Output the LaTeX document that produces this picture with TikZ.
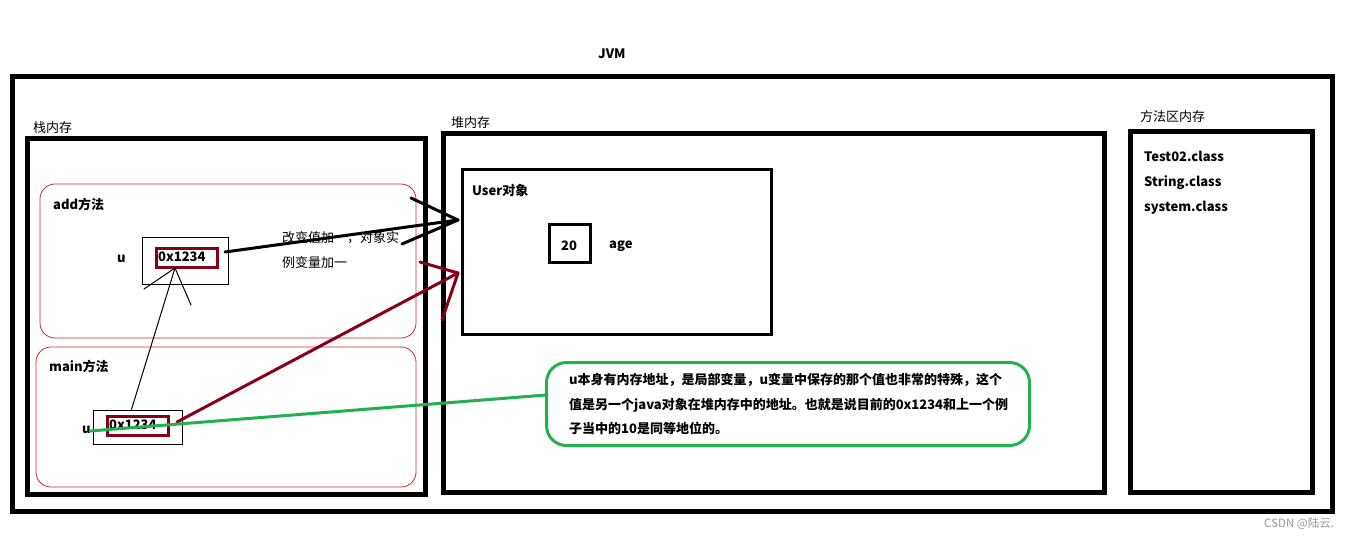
\documentclass[tikz,border=0pt]{standalone}
\usepackage{fontspec}
\setmainfont{Noto Sans CJK SC}
\definecolor{pdark}{RGB}{136,0,21}
\definecolor{pred}{RGB}{205,40,45}
\definecolor{pgreen}{RGB}{34,177,76}
\begin{document}
\begin{tikzpicture}[x=1pt,y=-1pt,
  box/.style={draw, inner sep=0pt, outer sep=0pt, anchor=north west},
  thick5/.style={line width=5pt},
  thick3/.style={line width=3pt},
  lbl/.style={inner sep=0pt, anchor=base west, font=\fontsize{13}{15}\selectfont},
  blbl/.style={lbl, font=\fontsize{13}{15}\selectfont\bfseries},
  hand/.style={line width=1pt, line cap=round},
  handthick/.style={line width=3pt, line cap=round}]
\useasboundingbox (0,0) rectangle (1356,539);
% containers
\node[box, thick5, minimum width=1320pt, minimum height=435pt] (jvm) at (12.5,76.5) {};
\node[blbl] (jvmlbl) at (598,58) {JVM};
\node[box, thick5, minimum width=398pt, minimum height=356pt] (stack) at (27.5,138.5) {};
\node[lbl] (stacklbl) at (33,132) {栈内存};
\node[box, thick5, minimum width=661pt, minimum height=359pt] (heap) at (443.5,133.5) {};
\node[lbl] (heaplbl) at (451,127) {堆内存};
\node[box, thick5, minimum width=182pt, minimum height=361pt] (meth) at (1130.5,131.5) {};
\node[lbl] (methlbl) at (1140,121) {方法区内存};
\node[blbl] (c1) at (1144,161) {Test02.class};
\node[blbl] (c2) at (1144,186) {String.class};
\node[blbl] (c3) at (1144,211) {system.class};
% add frame
\node[box, draw=pred, line width=0.8pt, rounded corners=15pt, minimum width=376pt, minimum height=154pt] (addf) at (40,184) {};
\node[blbl] (addlbl) at (53,209) {add方法};
\node[blbl] (uadd) at (117,262) {u};
\node[box, line width=0.8pt, minimum width=86pt, minimum height=47pt] (addo) at (142,237) {};
\node[box, draw=pdark, thick3, minimum width=61pt, minimum height=19pt] (addi) at (156.5,248.5) {};
\node[blbl] (addv) at (158,261) {0x1234};
% main frame
\node[box, draw=pred, line width=0.8pt, rounded corners=15pt, minimum width=380pt, minimum height=140pt] (mainf) at (36,347) {};
\node[blbl] (mainlbl) at (49,371) {main方法};
\node[blbl] (umain) at (82,433) {u};
\node[box, line width=0.8pt, minimum width=89pt, minimum height=34pt] (maino) at (93,410) {};
\node[box, draw=pdark, thick3, minimum width=61pt, minimum height=19pt] (maini) at (107.5,416.5) {};
\node[blbl] (mainv) at (109,429) {0x1234};
% heap object
\node[box, thick3, minimum width=309pt, minimum height=165pt] (user) at (462.5,169.5) {};
\node[blbl] (userlbl) at (472,195) {User对象};
\node[box, thick3, minimum width=41pt, minimum height=38pt] (agebox) at (549.5,224.5) {};
\node[blbl, anchor=base] (agev) at (569,250) {20};
\node[blbl] (agelbl) at (609,248) {age};
% annotation
\node[lbl] (n1) at (282,242) {改变值加\hspace{13pt}，对象实};
\node[lbl] (n2) at (282,267) {例变量加一};
% green note
\node[box, draw=pgreen, thick3, rounded corners=20pt, minimum width=483pt, minimum height=83pt] (note) at (546.5,362.5) {};
\node[blbl] (g1) at (569,384) {u本身有内存地址，是局部变量，u变量中保存的那个值也非常的特殊，这个};
\node[blbl] (g2) at (569,409) {值是另一个java对象在堆内存中的地址。也就是说目前的0x1234和上一个例};
\node[blbl] (g3) at (569,433) {子当中的10是同等地位的。};
% watermark
\node[inner sep=0pt, anchor=base west, text=black!40, font=\fontsize{11.5}{13}\selectfont] (wm) at (1264,527) {CSDN @陆云.};
% connector points
\coordinate (tA) at (131,411);
\coordinate (tB) at (175,268);
\coordinate (tB1) at (144,289);
\coordinate (tB2) at (191,305);
\coordinate (kA) at (225,252);
\coordinate (kB) at (458,220);
\coordinate (kB1) at (411,198);
\coordinate (kB2) at (402,244);
\coordinate (rA) at (177,422);
\coordinate (rB) at (458,273);
\coordinate (rB1) at (420,262);
\coordinate (rB2) at (442,320);
\coordinate (gA) at (90,431);
\coordinate (gB) at (546,395);
% connectors
\draw[hand] (tA) -- (tB);
\draw[hand] (tB) -- (tB1);
\draw[hand] (tB) -- (tB2);
\draw[handthick] (kA) -- (kB);
\draw[handthick] (kB) -- (kB1);
\draw[handthick] (kB) -- (kB2);
\draw[handthick, pdark] (rA) -- (rB);
\draw[handthick, pdark] (rB) -- (rB1);
\draw[handthick, pdark] (rB) -- (rB2);
\draw[handthick, pgreen] (gA) -- (gB);
\end{tikzpicture}
\end{document}
